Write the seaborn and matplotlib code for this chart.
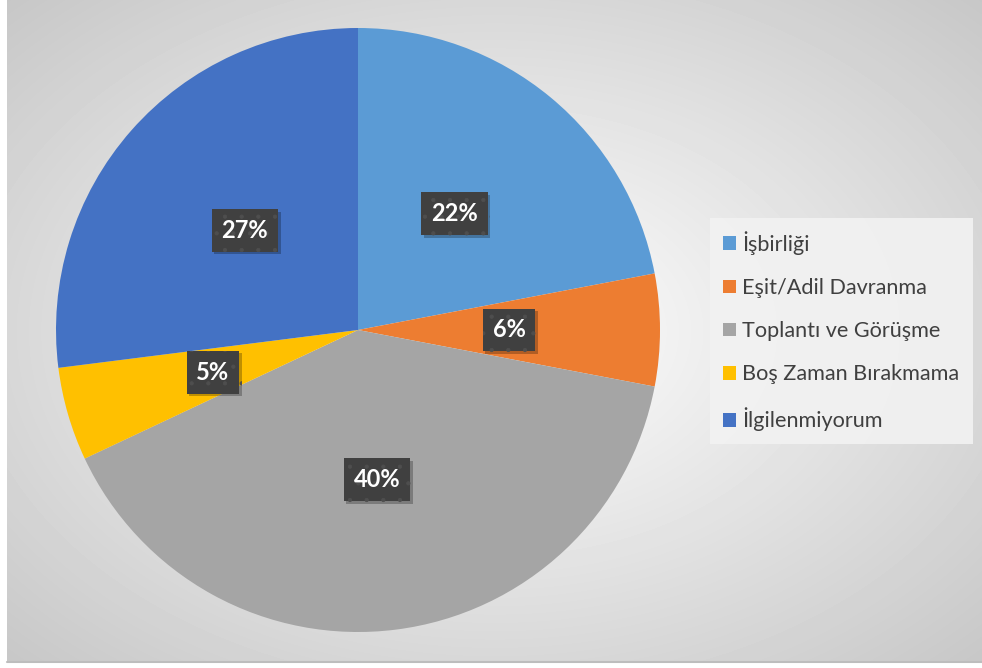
import numpy as np
import matplotlib
matplotlib.use("Agg")
import matplotlib.pyplot as plt
import matplotlib.patheffects as pe
from matplotlib.lines import Line2D
import seaborn as sns

# Survey answers and their shares (percent)
categories = ["İşbirliği", "Eşit/Adil Davranma", "Toplantı ve Görüşme",
              "Boş Zaman Bırakmama", "İlgilenmiyorum"]
shares = [22, 6, 40, 5, 27]
slice_colors = ["#5B9BD5", "#ED7D31", "#A5A5A5", "#FFC000", "#4472C4"]

sns.set_theme(style="white")
sns.set_palette(slice_colors)
plt.rcParams["font.family"] = ["Lato", "DejaVu Sans"]

W, H = 982, 668
fig = plt.figure(figsize=(W / 100, H / 100), dpi=100)
fig.patch.set_facecolor("white")

# Chart area with a soft radial gradient (white centre, grey corners)
x0, top, bottom = 7, 0, 662
bg = fig.add_axes([x0 / W, (H - bottom) / H, (W - x0) / W, (bottom - top) / H])
gw, gh = W - x0, bottom - top
yy, xx = np.mgrid[0:gh, 0:gw]
cx, cy = gw / 2, gh / 2
d = np.sqrt(((xx - cx) / cx) ** 2 + ((yy - cy) / cy) ** 2) / np.sqrt(2)
shade = 255 - 56 * d
bg.imshow(shade, cmap="gray", vmin=0, vmax=255, aspect="auto",
          extent=(0, gw, gh, 0), interpolation="bilinear")
bg.set_axis_off()
fig.add_artist(Line2D([x0 / W, 1], [(H - bottom) / H] * 2,
                      transform=fig.transFigure, color="#bdbdbd", lw=1.5))

# Pie
cxp, cyp, r = 358, 330, 302
ax = fig.add_axes([(cxp - r) / W, (H - cyp - r) / H, 2 * r / W, 2 * r / H])
ax.patch.set_alpha(0)
wedges, texts, autotexts = ax.pie(
    shares, colors=slice_colors, startangle=90, counterclock=False,
    autopct="%1.0f%%", pctdistance=0.5, wedgeprops=dict(linewidth=0),
    textprops=dict(color="white", fontsize=17, fontweight="bold"))
ax.set_xlim(-1, 1)
ax.set_ylim(-1, 1)

plt.rcParams["hatch.linewidth"] = 0.6
for t in autotexts:
    t.set_bbox(dict(boxstyle="square,pad=0.42", facecolor="#404040",
                    edgecolor="#4e4e4e", linewidth=0, hatch="."))
    t.get_bbox_patch().set_path_effects([
        pe.SimplePatchShadow(offset=(2, -2), shadow_rgbFace="black", alpha=0.25),
        pe.Normal()])

leg = ax.legend(wedges, categories, loc="upper left",
                bbox_to_anchor=(710 / W, 1 - 218 / H), bbox_transform=fig.transFigure,
                fontsize=15.6, handlelength=0.6, handleheight=0.6, handletextpad=0.3,
                labelspacing=1.07, borderpad=0.6, borderaxespad=0, fancybox=False,
                facecolor="#f2f2f2", edgecolor="none", framealpha=0.9,
                labelcolor="#404040")

fig.savefig("out.png", dpi=100, facecolor="white")
